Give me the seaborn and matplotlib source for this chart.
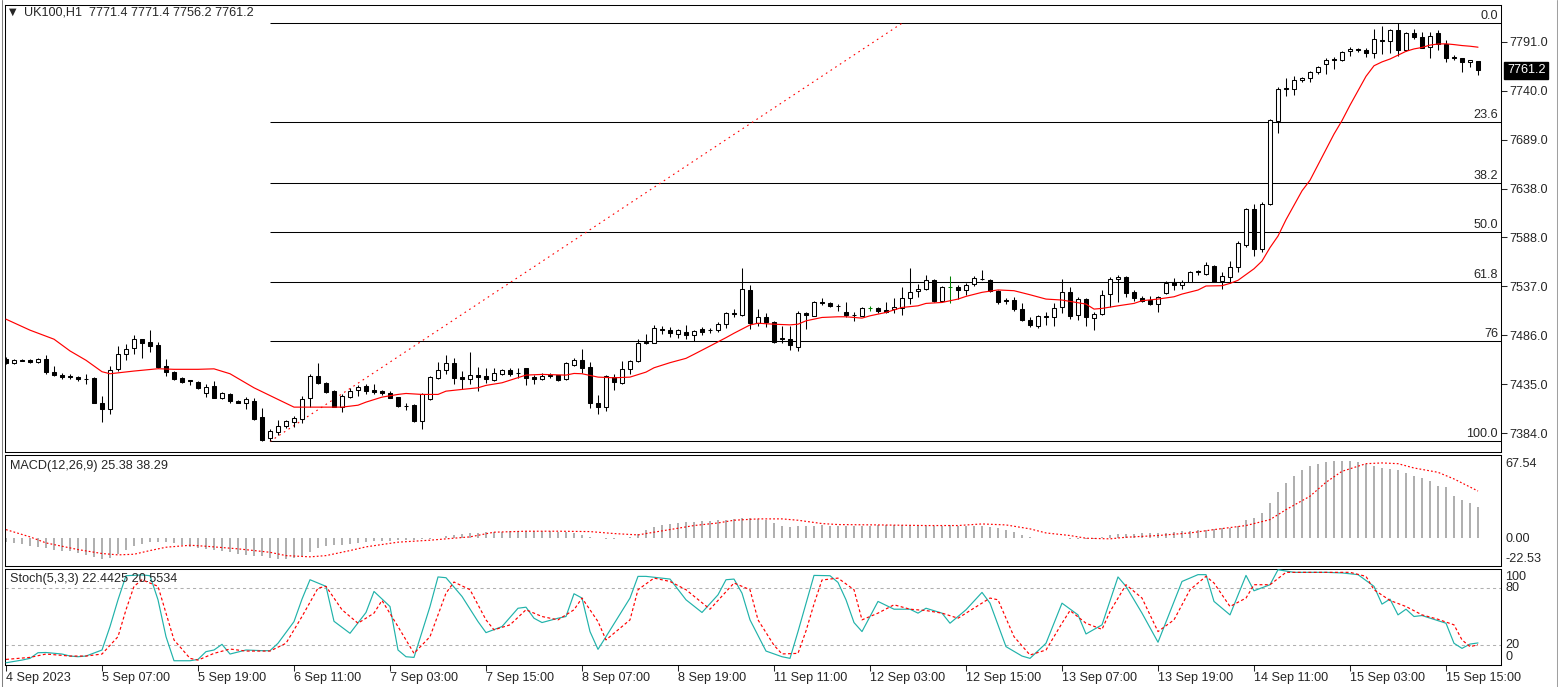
import numpy as np
import matplotlib
matplotlib.use("Agg")
import matplotlib.pyplot as plt
import matplotlib.transforms as mtransforms
import seaborn as sns

# ---------------- data ----------------
opens = [
    7461, 7457, 7460.5, 7460, 7458, 7461, 7448, 7445, 7444, 7442,
    7440.3, 7441, 7416, 7409, 7451, 7466, 7473, 7482, 7479, 7475.5,
    7454, 7448, 7441, 7439, 7437, 7426, 7433, 7421, 7425, 7418,
    7416, 7418, 7400.7, 7379.2, 7385.4, 7392, 7396, 7399, 7420.2, 7443.5,
    7436.5, 7427.8, 7411.2, 7421.9, 7428.5, 7433, 7429, 7427.8, 7426, 7421.6,
    7412.2, 7413.2, 7397.2, 7419.2, 7441, 7449.4, 7456.7, 7442.4, 7440, 7444.5,
    7443.5, 7439, 7446, 7449.7, 7447, 7451.4, 7442.7, 7440, 7444.2, 7444.1,
    7440, 7455, 7459.8, 7452.8, 7415, 7411.4, 7442.4, 7436.5, 7450.4, 7459.1,
    7479.3, 7478.2, 7492.8, 7491.4, 7486.9, 7489.3, 7485.9, 7492.1, 7491.3, 7491.1,
    7497.3, 7509.5, 7506.7, 7532.8, 7499, 7505, 7499.9, 7482.8, 7481.8, 7474.1,
    7508.9, 7506.1, 7520.7, 7519.7, 7516.8, 7510.3, 7507.1, 7506.1, 7514.1, 7514.5,
    7512.4, 7513.1, 7513.8, 7524.2, 7531.8, 7533.9, 7543.7, 7521.8, 7535.7, 7536.4,
    7532.5, 7539.1, 7544.7, 7543.7, 7532.2, 7522.8, 7522.5, 7513.1, 7501.6, 7495.3,
    7505.8, 7504.4, 7514.8, 7531.2, 7506.8, 7523.5, 7503.7, 7507.8, 7528.7, 7544.4,
    7546.8, 7531.2, 7524.6, 7522.8, 7518.3, 7529.8, 7540.9, 7538.4, 7541.6, 7552.3,
    7549.6, 7558.3, 7542.6, 7546.8, 7556.5, 7579.8, 7616.7, 7575.6, 7622.6, 7708.4,
    7743.2, 7741.8, 7750.9, 7752.9, 7759.2, 7767.5, 7773.1, 7772.1, 7781.4, 7783.2,
    7782.5, 7779, 7792.9, 7791.9, 7803.4, 7782.5, 7799.9, 7795.7, 7785.3, 7799.9,
    7788.4, 7774.8, 7773.8, 7770.3, 7771.4,
]
highs = [
    7463, 7461.5, 7461, 7461, 7462, 7465, 7454, 7447, 7446, 7443.5,
    7446, 7442, 7423, 7454, 7475, 7477, 7486, 7482.5, 7491.5, 7479,
    7461, 7449, 7442, 7439.5, 7438, 7435.5, 7438, 7427, 7426, 7419,
    7421.6, 7421, 7410.5, 7388, 7397.6, 7398.3, 7401.8, 7422.6, 7445.9, 7457.4,
    7437.6, 7428.5, 7424.4, 7431.3, 7433.8, 7435.5, 7434.8, 7429.2, 7427.8, 7422,
    7415.7, 7414.6, 7426, 7443.5, 7458.4, 7465.4, 7462, 7448.7, 7468.5, 7452.9,
    7451.5, 7451.5, 7450.4, 7451.4, 7451.4, 7452.1, 7444.1, 7446.2, 7446.2, 7445,
    7458, 7462.6, 7471.3, 7458, 7423.3, 7444.5, 7445.2, 7459.1, 7459.8, 7481.7,
    7487.6, 7496.6, 7495.6, 7494.6, 7492, 7496.6, 7491, 7494.9, 7493.9, 7499.8,
    7510.2, 7513.7, 7555.4, 7538.4, 7513.5, 7508.9, 7500.9, 7495.7, 7495.7, 7511.3,
    7509.6, 7521.1, 7524.2, 7520.7, 7518.3, 7520, 7509.6, 7514.8, 7516.5, 7515.5,
    7520, 7524.5, 7536.4, 7555.8, 7539.2, 7548.5, 7543.9, 7537.4, 7547.8, 7538.1,
    7539.8, 7547.1, 7554.1, 7543.9, 7532.9, 7524.2, 7525.9, 7519, 7504.4, 7507.2,
    7509.6, 7519, 7544.4, 7535.7, 7525.9, 7524.6, 7509.6, 7532.9, 7546.1, 7548.5,
    7547.8, 7532.9, 7527, 7527, 7526.3, 7541.9, 7545.4, 7543.3, 7553.1, 7553.8,
    7561.7, 7558.5, 7552, 7563.5, 7583.7, 7618.4, 7621.9, 7624.3, 7710.2, 7744.2,
    7753.6, 7755.4, 7754.7, 7760.6, 7766.1, 7773.8, 7775.5, 7781.4, 7785.3, 7784.2,
    7784.2, 7804.4, 7807.5, 7804.4, 7810.2, 7800.9, 7804.4, 7801.6, 7800.9, 7803.4,
    7792.9, 7777.3, 7773.8, 7772.1, 7771.4,
]
lows = [
    7456, 7456, 7459, 7457, 7457, 7446, 7444, 7440, 7440, 7438,
    7435, 7415, 7396, 7404, 7449, 7460, 7466, 7462, 7468.5, 7452,
    7444, 7439, 7436, 7434, 7430, 7422, 7421, 7420, 7415.6, 7415,
    7409, 7397.6, 7376, 7375.5, 7382.6, 7389, 7390.3, 7394.5, 7411.2, 7435.5,
    7426.1, 7411, 7406.3, 7420.2, 7422.6, 7425, 7425, 7423.7, 7420.2, 7411.2,
    7408.7, 7395.9, 7388.6, 7418.1, 7440, 7445.2, 7434.8, 7429.6, 7435.5, 7427.8,
    7436.5, 7438.3, 7444.5, 7443.4, 7441, 7434, 7435.4, 7439, 7441, 7438,
    7439, 7453.9, 7446.9, 7410.4, 7404.5, 7407.6, 7429.5, 7435.4, 7445.2, 7458.4,
    7477.2, 7478.2, 7487.6, 7484.1, 7483.4, 7482.4, 7480, 7486.2, 7488.6, 7489.7,
    7493.9, 7505, 7506, 7492.8, 7496, 7494, 7477.6, 7477.6, 7470.6, 7469.6,
    7492.9, 7505.4, 7517.2, 7514.8, 7511.3, 7505.1, 7500.9, 7506, 7511.3, 7508.9,
    7508.9, 7508.9, 7506.8, 7518.3, 7525.2, 7532.9, 7520.7, 7520.7, 7519.3, 7523.5,
    7527.7, 7537.4, 7543.7, 7531.1, 7518.3, 7518.3, 7510.6, 7500.9, 7494.6, 7493.9,
    7496.7, 7495.7, 7508.6, 7502.6, 7501.6, 7495.7, 7491.2, 7507.2, 7515.5, 7520,
    7525.2, 7521.8, 7520, 7517.6, 7510.3, 7528.7, 7532.9, 7533.9, 7541.6, 7548.9,
    7548.9, 7540.9, 7533.9, 7539.8, 7551.3, 7577.4, 7568.7, 7572.1, 7621.5, 7695.6,
    7734.5, 7735.6, 7749.5, 7749.5, 7757.1, 7757.5, 7762.3, 7771.4, 7776.6, 7780.8,
    7775.5, 7774.5, 7778, 7779.7, 7776.6, 7781.4, 7794, 7784.2, 7774.5, 7782.5,
    7769.6, 7772.1, 7759.2, 7764.4, 7756.2,
]
closes = [
    7457, 7460, 7459.5, 7458, 7461, 7448, 7445, 7443, 7442, 7440,
    7440, 7416, 7409, 7450, 7466, 7472, 7482, 7478, 7475, 7453,
    7448, 7440, 7437.5, 7438, 7431, 7432, 7421, 7425.5, 7417.4, 7416,
    7419.5, 7399, 7377.4, 7386, 7392, 7396.5, 7400, 7419.2, 7443.5, 7436.5,
    7427.2, 7411.2, 7422.6, 7427.8, 7432, 7427.8, 7427, 7426, 7421, 7412.2,
    7412, 7396.6, 7424.4, 7442.4, 7449.4, 7456.7, 7441.8, 7440, 7444.2, 7442.4,
    7440, 7446.3, 7449.4, 7445.2, 7446.5, 7441.7, 7440, 7443.4, 7444, 7438.9,
    7456.7, 7459.8, 7452.1, 7415.6, 7411.4, 7443.4, 7437.5, 7450.4, 7459.1, 7477.5,
    7477.5, 7493.2, 7491.1, 7488, 7491.1, 7485.9, 7490.4, 7489.3, 7491, 7497.7,
    7509.5, 7507.8, 7533.8, 7499.1, 7505, 7499.2, 7479, 7482.5, 7475.5, 7508.9,
    7506.8, 7520.7, 7519.3, 7515.9, 7516.5, 7506.8, 7506.8, 7514.1, 7514.1, 7511.3,
    7509.6, 7515.5, 7524.5, 7531.2, 7534.3, 7543.7, 7521.8, 7536.4, 7535.7, 7532.9,
    7538.4, 7545.1, 7544.4, 7532.2, 7520, 7521.8, 7513.1, 7501.6, 7496.4, 7505.8,
    7504.4, 7514.1, 7531.2, 7505.4, 7523.5, 7504.4, 7507.8, 7527.7, 7544.4, 7546.8,
    7529.4, 7524.2, 7521.8, 7518.3, 7525.2, 7540.2, 7538.1, 7541.2, 7552, 7552,
    7559.3, 7541.6, 7547.5, 7556.9, 7581.6, 7616.7, 7575.7, 7622.6, 7709.5, 7741.8,
    7741.8, 7750.9, 7753.6, 7759.2, 7765.1, 7772.1, 7772.1, 7780.8, 7783.2, 7782.1,
    7779, 7794, 7791.9, 7802.7, 7782.5, 7799.9, 7795.4, 7784.9, 7797.4, 7788.4,
    7774.5, 7773.8, 7769.6, 7772.1, 7761.2,
]

# red moving average (bar index, price)
ma_points = [
    (0, 7502.6), (3, 7491.2), (6, 7481.8), (8, 7469.6), (10, 7459.9), (12, 7448.0),
    (13, 7445.9), (16, 7448.7), (19, 7451.1), (21, 7450.5), (24, 7450.5), (26, 7451.0),
    (28, 7445.9), (31, 7431.3), (34, 7419.2), (36, 7411.2), (42, 7411.2), (44, 7413.2),
    (45, 7416.4), (47, 7421.6), (49, 7424.4), (50, 7425.4), (52, 7424.4), (54, 7424.4),
    (55, 7427.8), (57, 7429.6), (59, 7431.3), (60, 7433.8), (62, 7436.5), (65, 7444.5),
    (67, 7445.2), (70, 7444.5), (71, 7446.2), (72, 7445.9), (74, 7442.4), (76, 7441.7),
    (78, 7442.4), (80, 7447.6), (81, 7452.1), (83, 7457.4), (85, 7461.9), (86, 7466.1),
    (88, 7474.7), (90, 7483.4), (91, 7488.0), (93, 7496.6), (94, 7498.4), (96, 7497.4),
    (98, 7496.7), (99, 7497.4), (100, 7500.9), (102, 7504.4), (104, 7505.1), (105, 7505.1),
    (107, 7503.7), (108, 7506.1), (110, 7509.6), (112, 7514.8), (114, 7516.5), (115, 7519.0),
    (117, 7520.0), (119, 7523.5), (120, 7526.3), (122, 7530.5), (124, 7533.0), (126, 7532.2),
    (128, 7528.0), (130, 7523.5), (132, 7522.5), (133, 7521.1), (135, 7518.3), (136, 7513.1),
    (137, 7513.8), (139, 7516.5), (141, 7519.0), (142, 7521.8), (144, 7523.5), (146, 7525.9),
    (147, 7528.7), (149, 7532.9), (150, 7537.1), (152, 7537.4), (153, 7539.8), (154, 7543.0),
    (155, 7549.0), (156, 7555.0), (157, 7563.0), (158, 7577.0), (159, 7589.0), (160, 7606.0),
    (161, 7621.0), (162, 7636.0), (163, 7647.0), (164, 7663.0), (165, 7679.0), (166, 7695.0),
    (167, 7709.0), (168, 7725.0), (169, 7740.0), (170, 7755.0), (171, 7766.0), (172, 7770.0),
    (173, 7773.0), (174, 7777.0), (175, 7781.0), (176, 7783.5), (177, 7785.0), (178, 7787.5),
    (179, 7788.6), (180, 7788.8), (181, 7788.0), (182, 7787.0), (183, 7786.3), (184, 7785.3),
]

# MACD(12,26,9) histogram, one value per bar
macd_hist = [
    -3.0, -3.8, -5.0, -5.9, -7.0, -8.2, -9.2, -10.0, -10.5, -12.0,
    -13.6, -15.5, -16.8, -16.0, -13.0, -9.5, -6.5, -4.5, -3.2, -2.7,
    -3.0, -3.8, -5.5, -6.8, -7.8, -8.6, -9.5, -10.6, -11.5, -12.5,
    -13.5, -14.1, -14.8, -15.9, -16.5, -16.8, -16.0, -14.2, -10.8, -8.0,
    -6.5, -5.8, -5.1, -4.4, -3.8, -3.2, -2.6, -2.2, -1.9, -1.6,
    -1.4, -1.2, -1.0, -0.5, 0.3, 2.0, 2.8, 3.6, 4.1, 4.5,
    4.8, 5.0, 5.3, 5.5, 5.7, 5.8, 5.8, 5.7, 5.6, 5.4,
    5.1, 4.0, 2.5, 1.1, -0.2, -0.6, -0.5, 0.2, 1.1, 3.5,
    7.0, 9.2, 10.8, 11.8, 12.5, 13.0, 13.4, 13.8, 14.3, 14.8,
    15.1, 15.8, 16.5, 16.2, 15.9, 15.0, 12.5, 10.3, 9.5, 9.8,
    10.2, 10.3, 10.4, 10.3, 10.2, 10.0, 9.8, 9.9, 10.2, 10.4,
    10.5, 10.4, 10.6, 10.8, 10.6, 10.3, 10.1, 10.2, 10.4, 10.3,
    10.2, 10.0, 9.6, 9.2, 8.2, 7.0, 5.0, 3.0, 1.0, 0.5,
    0.4, 0.1, -0.2, -0.4, -0.5, -0.5, -0.4, 0.8, 2.5, 3.8,
    3.8, 3.8, 4.0, 4.2, 4.3, 4.6, 4.9, 5.5, 6.0, 6.5,
    7.0, 7.6, 8.0, 8.5, 10.3, 15.1, 16.5, 20.5, 28.6, 37.3,
    44.9, 50.8, 55.1, 58.4, 60.5, 61.6, 62.4, 63.0, 62.4, 61.6,
    60.5, 58.9, 57.0, 56.0, 55.1, 53.0, 50.8, 48.9, 46.2, 42.7,
    41.6, 34.6, 31.4, 28.6, 25.38,
]
macd_signal_points = [
    (0, 7.0), (3, 1.1), (5, -3.8), (9, -9.2), (12, -12.4), (14, -13.5), (16, -13.0),
    (18, -10.0), (20, -7.3), (23, -5.7), (25, -6.5), (29, -8.6), (33, -11.4), (35, -14.1),
    (38, -15.1), (40, -14.1), (43, -10.0), (45, -7.0), (49, -3.2), (53, -1.6), (55, -0.5),
    (58, 1.1), (61, 4.9), (65, 5.7), (69, 5.7), (73, 5.4), (76, 3.8), (79, 2.7), (81, 4.9),
    (84, 8.1), (86, 10.3), (89, 12.4), (91, 14.6), (94, 15.7), (97, 15.7), (99, 14.6),
    (102, 11.9), (104, 11.1), (109, 10.8), (115, 10.3), (119, 10.3), (122, 11.6), (125, 10.8),
    (128, 7.6), (130, 4.3), (133, 2.2), (135, 0.0), (138, -0.5), (140, 0.8), (144, 2.2),
    (148, 4.3), (151, 7.0), (155, 10.3), (158, 15.1), (160, 23.2), (163, 34.1), (165, 45.4),
    (167, 54.3), (170, 60.5), (172, 61.1), (174, 60.5), (176, 57.0), (179, 53.5), (181, 48.1),
    (184, 38.29),
]

# Stochastic(5,3,3) main and signal lines (bar index, value)
stoch_main_points = [
    (0, 1.8), (2, 4.6), (3, 6.4), (4, 12.3), (5, 12.5), (7, 10.9), (8, 8.8), (9, 8.1),
    (10, 8.8), (12, 15.1), (13, 39.5), (14, 67.4), (15, 92.5), (17, 93.3), (18, 92.5),
    (19, 67.4), (20, 29.0), (21, 3.9), (23, 3.9), (24, 5.3), (25, 13.4), (26, 15.1),
    (27, 21.0), (28, 10.9), (29, 13.0), (30, 15.1), (32, 14.4), (33, 14.4), (34, 22.1),
    (36, 44.7), (37, 68.1), (38, 88.3), (40, 81.4), (41, 45.0), (43, 32.5), (45, 54.2),
    (46, 76.1), (48, 60.4), (49, 15.1), (50, 8.1), (51, 7.4), (53, 60.4), (54, 91.2),
    (55, 90.4), (57, 70.9), (59, 44.7), (60, 33.2), (62, 39.5), (64, 58.6), (65, 59.7),
    (66, 48.2), (67, 43.7), (69, 48.2), (70, 50.0), (71, 73.7), (72, 69.2), (73, 34.3),
    (74, 15.8), (75, 29.0), (78, 69.2), (79, 91.8), (80, 91.8), (83, 89.0), (85, 67.4),
    (87, 54.2), (89, 72.6), (90, 88.3), (91, 89.0), (92, 74.3), (93, 46.5), (95, 14.0),
    (97, 8.1), (98, 6.4), (99, 34.3), (101, 92.8), (103, 92.5), (104, 85.5), (105, 67.4),
    (106, 43.7), (107, 34.3), (109, 65.7), (111, 57.6), (113, 57.6), (114, 53.5),
    (115, 58.6), (117, 53.5), (118, 43.0), (120, 57.0), (122, 75.1), (123, 63.9),
    (125, 18.6), (127, 8.8), (128, 6.4), (130, 22.1), (132, 63.9), (134, 51.7), (135, 31.8),
    (137, 41.3), (139, 91.2), (140, 81.4), (142, 53.5), (144, 23.2), (147, 86.5), (149, 93.6),
    (150, 93.6), (151, 65.7), (153, 51.7), (155, 92.8), (156, 76.8), (158, 83.1), (159, 98.7),
    (161, 96.0), (163, 96.0), (165, 96.0), (167, 95.4), (169, 93.6), (171, 81.4), (172, 62.9),
    (173, 68.1), (174, 51.7), (175, 57.6), (176, 50.0), (177, 51.0), (180, 43.0), (181, 22.1),
    (182, 16.8), (183, 21.3), (184, 22.44),
]
stoch_signal_points = [
    (0, 5.3), (3, 7.4), (5, 10.9), (8, 8.8), (10, 8.8), (12, 10.9), (14, 29.0), (15, 57.0),
    (16, 81.4), (17, 88.3), (19, 81.4), (20, 53.5), (21, 25.6), (23, 6.4), (24, 4.6),
    (26, 11.6), (28, 16.1), (30, 14.0), (33, 14.0), (35, 22.1), (37, 50.0), (39, 79.6),
    (40, 81.4), (42, 57.0), (44, 43.0), (46, 53.5), (47, 66.7), (49, 39.5), (51, 11.6),
    (53, 29.0), (55, 74.3), (56, 85.9), (58, 77.9), (60, 46.5), (61, 36.1), (63, 41.3),
    (65, 57.0), (67, 50.0), (69, 46.5), (71, 57.0), (72, 69.2), (74, 44.7), (75, 25.6),
    (78, 46.5), (79, 77.9), (81, 90.0), (83, 86.5), (85, 77.9), (88, 57.6), (89, 66.7),
    (91, 84.9), (93, 77.9), (94, 46.5), (96, 20.0), (97, 11.0), (99, 11.6), (100, 35.0),
    (101, 63.0), (102, 88.0), (104, 90.0), (106, 77.9), (107, 46.5), (109, 53.5), (111, 62.2),
    (113, 57.6), (115, 56.2), (117, 53.5), (119, 48.2), (120, 53.5), (123, 69.2), (124, 67.4),
    (126, 29.0), (128, 9.9), (130, 15.1), (132, 43.0), (133, 56.2), (135, 43.0), (137, 36.6),
    (138, 55.1), (140, 83.1), (142, 69.2), (144, 34.3), (146, 46.5), (148, 77.9), (150, 91.8),
    (151, 84.9), (153, 60.4), (155, 69.2), (156, 83.1), (158, 83.1), (160, 96.0), (163, 96.0),
    (165, 96.0), (168, 96.0), (170, 91.8), (171, 77.9), (173, 66.7), (175, 60.4), (177, 51.7),
    (179, 47.1), (181, 41.3), (182, 25.6), (183, 18.6), (184, 20.55),
]

date_labels = [
    "4 Sep 2023", "5 Sep 07:00", "5 Sep 19:00", "6 Sep 11:00", "7 Sep 03:00",
    "7 Sep 15:00", "8 Sep 07:00", "8 Sep 19:00", "11 Sep 11:00", "12 Sep 03:00",
    "12 Sep 15:00", "13 Sep 07:00", "13 Sep 19:00", "14 Sep 11:00", "15 Sep 03:00",
    "15 Sep 15:00",
]
date_label_step = 12
price_ticks = [7791.0, 7740.0, 7689.0, 7638.0, 7588.0, 7537.0, 7486.0, 7435.0, 7384.0]
fib_levels = [0.0, 23.6, 38.2, 50.0, 61.8, 76.0, 100.0]
fib_texts = ["0.0", "23.6", "38.2", "50.0", "61.8", "76", "100.0"]
fib_high = 7810.2
fib_low = 7375.5
fib_start_bar = 33
fib_end_bar = 112
last_price = 7761.2
title_text = "UK100,H1  7771.4 7771.4 7756.2 7761.2"
macd_title = "MACD(12,26,9) 25.38 38.29"
stoch_title = "Stoch(5,3,3) 22.4425 20.5534"
macd_range = (-22.53, 67.54)
macd_labels = [67.54, 0.0, -22.53]
stoch_levels = [20, 80]
stoch_labels = [100, 80, 20, 0]

# ---------------- figure ----------------
sns.set_style("white")
plt.rcParams["font.family"] = ["Liberation Sans", "DejaVu Sans"]
plt.rcParams["axes.linewidth"] = 0.75
FS = 9.1

W, H = 1558, 687
fig = plt.figure(figsize=(W / 100, H / 100), dpi=100)
fig.patch.set_facecolor("white")


def rect(left, top, right, bottom):
    return [left / W, 1 - bottom / H, (right - left) / W, (bottom - top) / H]


def ptext(x, y, s, **kw):
    kw.setdefault("fontsize", FS)
    fig.text(x / W, 1 - y / H, s, **kw)


ax_main = fig.add_axes(rect(5, 5, 1501, 452))
ax_macd = fig.add_axes(rect(5, 455, 1501, 566))
ax_sto = fig.add_axes(rect(5, 568.5, 1501, 664.5))

n = len(closes)
xb = np.arange(n)
o = np.array(opens, float)
c = np.array(closes, float)
h = np.array(highs, float)
l = np.array(lows, float)

xlim = (-0.125, 186.875)
LW = 0.75

# ---- main candle chart ----
ax = ax_main
doji = np.isclose(o, c)
up = (c > o) & ~doji
dn = (c < o) & ~doji
ax.vlines(xb[~doji], l[~doji], h[~doji], color="black", lw=LW, zorder=2)
ax.vlines(xb[doji], l[doji], h[doji], color="#008000", lw=LW, zorder=2)
bw = 0.55
ax.bar(xb[up], (c - o)[up], bottom=o[up], width=bw, color="white",
       edgecolor="black", linewidth=LW, zorder=3)
ax.bar(xb[dn], (o - c)[dn], bottom=c[dn], width=bw, color="black",
       edgecolor="black", linewidth=LW, zorder=3)
ax.hlines(c[doji], xb[doji] - bw / 2, xb[doji] + bw / 2, color="#008000", lw=LW, zorder=3)

ma_x = [p[0] for p in ma_points]
ma_y = [p[1] for p in ma_points]
sns.lineplot(x=ma_x, y=ma_y, ax=ax, color="red", linewidth=0.85, zorder=4)

# Fibonacci retracement
blend_main = mtransforms.blended_transform_factory(ax.transAxes, ax.transData)
fib_txt_tr = mtransforms.offset_copy(blend_main, fig=fig, x=-3, y=1, units="dots")
for lv, lab in zip(fib_levels, fib_texts):
    p = fib_high - lv / 100.0 * (fib_high - fib_low)
    ax.hlines(p, fib_start_bar, 300, color="black", lw=LW, zorder=1)
    ax.text(1.0, p, lab, transform=fib_txt_tr, ha="right", va="bottom", fontsize=FS)
ax.plot([fib_start_bar, fib_end_bar], [fib_low, fib_high], color="red", lw=0.8,
        linestyle=(0, (1.5, 3.5)), zorder=1)

ax.set_xlim(*xlim)
px_per_pt = 48.95 / 50.875
top_price = 7791 + (41.7 - 5) / px_per_pt
bot_price = 7791 - (452 - 41.7) / px_per_pt
ax.set_ylim(bot_price, top_price)
ax.yaxis.tick_right()
ax.set_yticks(price_ticks)
ax.set_yticklabels([f"{v:.1f}" for v in price_ticks])
ax.tick_params(axis="y", direction="out", length=4, width=LW, pad=2, labelsize=FS,
               right=True, left=False)
ax.tick_params(axis="x", bottom=False, labelbottom=False)
ax.text(1.0 + 6 / 1496, last_price, f"{last_price:.1f}", transform=blend_main,
        ha="left", va="center", color="white", fontsize=FS, zorder=6, clip_on=False,
        bbox=dict(boxstyle="square,pad=0.2", fc="black", ec="black"))

# ---- MACD ----
ax = ax_macd
ax.bar(xb, macd_hist, width=0.16, color="#b0b0b0", linewidth=0, zorder=2)
sx = [p[0] for p in macd_signal_points]
sy = [p[1] for p in macd_signal_points]
sns.lineplot(x=sx, y=sy, ax=ax, color="red", linewidth=0.85,
             linestyle=(0, (1.5, 1.8)), zorder=3)
ax.set_xlim(*xlim)
ax.set_ylim(*macd_range)
ax.set_xticks([])
ax.set_yticks([])
blend_macd = mtransforms.blended_transform_factory(ax.transAxes, ax.transData)
for v, dy in zip(macd_labels, [-9, -1, 7]):
    tr = mtransforms.offset_copy(blend_macd, fig=fig, x=4, y=dy, units="dots")
    ax.text(1.0, v, f"{v:.2f}", transform=tr, ha="left", va="center", fontsize=FS,
            clip_on=False)

# ---- Stochastic ----
ax = ax_sto
for lv in stoch_levels:
    ax.axhline(lv, color="#b0b0b0", lw=LW, linestyle=(0, (3, 3)), zorder=1)
kx = [p[0] for p in stoch_main_points]
ky = [p[1] for p in stoch_main_points]
dx = [p[0] for p in stoch_signal_points]
dy_ = [p[1] for p in stoch_signal_points]
sns.lineplot(x=kx, y=ky, ax=ax, color="#20B2AA", linewidth=0.85, zorder=3)
sns.lineplot(x=dx, y=dy_, ax=ax, color="red", linewidth=0.85,
             linestyle=(0, (2.5, 2)), zorder=4)
ax.set_xlim(*xlim)
ax.set_ylim(0, 100)
ax.set_yticks([])
blend_sto = mtransforms.blended_transform_factory(ax.transAxes, ax.transData)
for v, off in zip(stoch_labels, [-9, 0, 0, 7]):
    tr = mtransforms.offset_copy(blend_sto, fig=fig, x=4, y=off, units="dots")
    ax.text(1.0, v, str(v), transform=tr, ha="left", va="center", fontsize=FS,
            clip_on=False)
tick_pos = [i * date_label_step for i in range(len(date_labels))]
ax.set_xticks(tick_pos)
ax.set_xticklabels(date_labels)
ax.tick_params(axis="x", direction="out", length=4, width=LW, pad=1.5, labelsize=FS,
               bottom=True)
for t in ax.get_xticklabels():
    t.set_ha("left")

for a in (ax_main, ax_macd, ax_sto):
    a.set_xlabel("")
    a.set_ylabel("")
    a.set_facecolor("white")
    for s in a.spines.values():
        s.set_visible(True)
        s.set_color("black")
        s.set_linewidth(LW)
    leg = a.get_legend()
    if leg is not None:
        leg.remove()

# panel titles
ptext(9, 12, "\u25BC", va="center", ha="left", fontsize=7, family="DejaVu Sans")
ptext(24, 12.5, title_text, va="center", ha="left")
ptext(10, 466, macd_title, va="center", ha="left")
ptext(10, 579, stoch_title, va="center", ha="left")

# outer window frame lines
fig.add_artist(plt.Line2D([1.5 / W, 1.5 / W], [0, 1], color="#808080", lw=0.75))
fig.add_artist(plt.Line2D([1556.5 / W, 1556.5 / W], [0, 1], color="#a0a0a0", lw=0.75))

fig.savefig("out.png", dpi=100, facecolor="white")
